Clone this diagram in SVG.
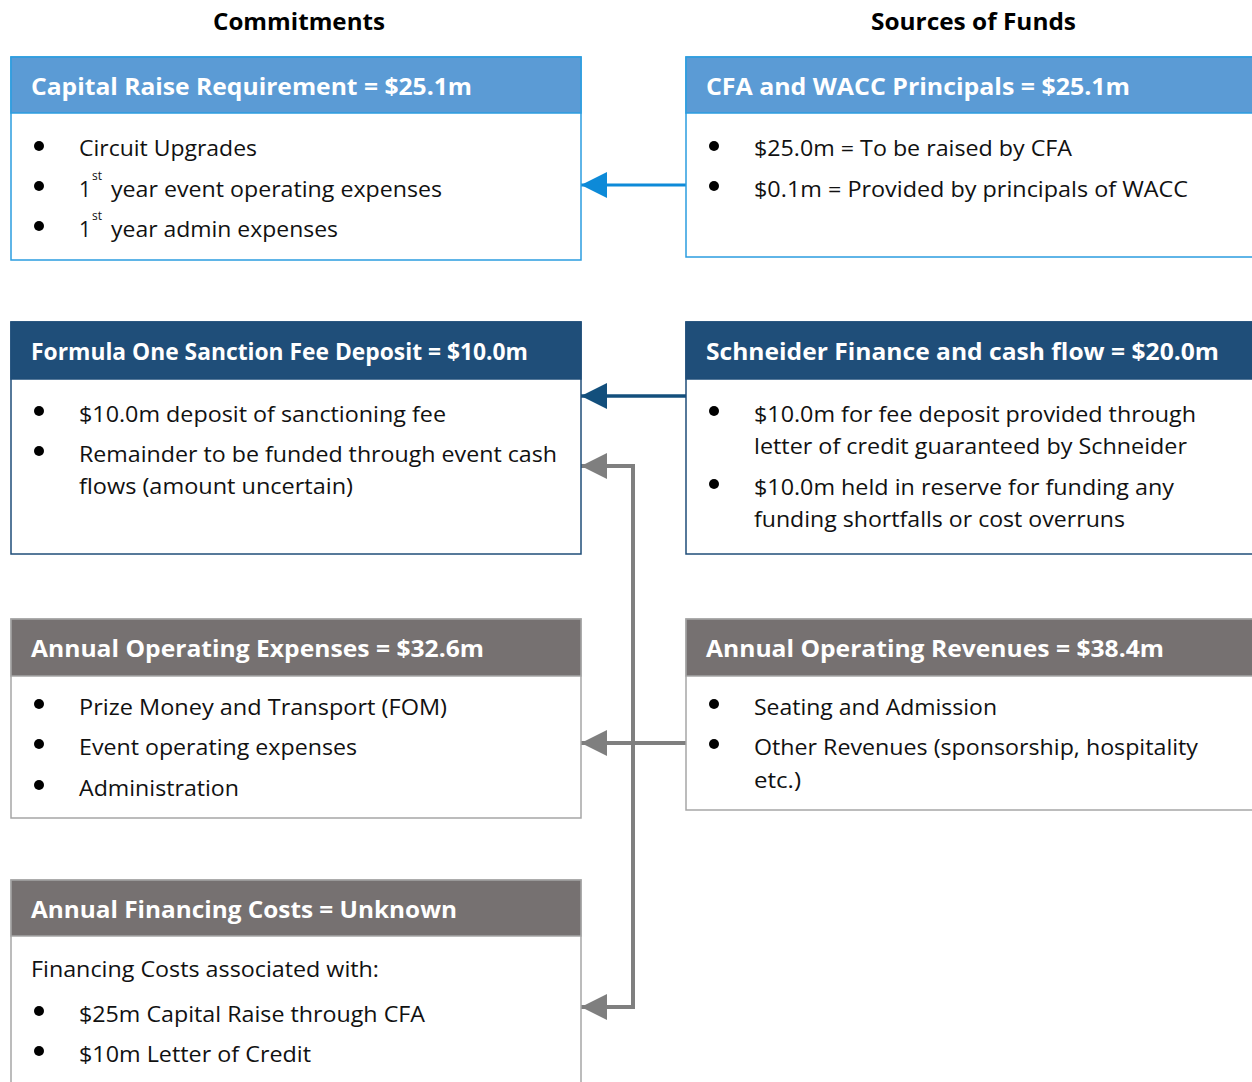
<svg xmlns="http://www.w3.org/2000/svg" width="1252" height="1082" viewBox="0 0 1252 1082">
  <style>
    .title { font-family: "Open Sans", "Noto Sans", sans-serif; font-weight: bold; font-size: 23px; fill: #000; }
    .head { font-family: "Open Sans", "Noto Sans", sans-serif; font-weight: bold; font-size: 23px; fill: #fff; }
    .body { font-family: "Open Sans", "Noto Sans", sans-serif; font-size: 21px; fill: #111; }
    .sup { font-family: "Open Sans", "Noto Sans", sans-serif; font-size: 12px; fill: #111; }
    .dot { fill: #000; }
    .boxLight { fill: #fff; stroke: #2b9de0; stroke-width: 1.5; }
    .hdrLight { fill: #5b9bd5; stroke: #2b9de0; stroke-width: 1.5; }
    .boxDark { fill: #fff; stroke: #1f4e79; stroke-width: 1.5; }
    .hdrDark { fill: #1f4e79; stroke: #1f4e79; stroke-width: 1.5; }
    .boxGrey { fill: #fff; stroke: #a6a6a6; stroke-width: 1.5; }
    .hdrGrey { fill: #767171; stroke: #a6a6a6; stroke-width: 1.5; }
    .conn { fill: none; stroke-linejoin: miter; }
  </style>
  <defs>
    <marker id="arrowBlue" markerUnits="userSpaceOnUse" markerWidth="26" markerHeight="26" refX="26" refY="13" orient="auto">
      <path d="M0,0 L26,13 L0,26 z" fill="#0d8ad8"/>
    </marker>
    <marker id="arrowNavy" markerUnits="userSpaceOnUse" markerWidth="26" markerHeight="26" refX="26" refY="13" orient="auto">
      <path d="M0,0 L26,13 L0,26 z" fill="#134f7c"/>
    </marker>
    <marker id="arrowGrey" markerUnits="userSpaceOnUse" markerWidth="26" markerHeight="26" refX="26" refY="13" orient="auto">
      <path d="M0,0 L26,13 L0,26 z" fill="#7f7f7f"/>
    </marker>
  </defs>

  <rect width="1252" height="1082" fill="#fff"/>

  <!-- column titles -->
  <text class="title" x="213" y="30" textLength="172" lengthAdjust="spacingAndGlyphs">Commitments</text>
  <text class="title" x="871" y="30" textLength="205" lengthAdjust="spacingAndGlyphs">Sources of Funds</text>

  <!-- connectors -->
  <g id="connectors">
    <path class="conn" d="M686,185 H581" stroke="#0d8ad8" stroke-width="3" marker-end="url(#arrowBlue)"/>
    <path class="conn" d="M686,396 H581" stroke="#134f7c" stroke-width="3.5" marker-end="url(#arrowNavy)"/>
    <path class="conn" d="M686,743 H581" stroke="#7f7f7f" stroke-width="4" marker-end="url(#arrowGrey)"/>
    <path class="conn" d="M633,743 V466 H581" stroke="#7f7f7f" stroke-width="4" marker-end="url(#arrowGrey)"/>
    <path class="conn" d="M633,743 V1007 H581" stroke="#7f7f7f" stroke-width="4" marker-end="url(#arrowGrey)"/>
  </g>

  <!-- Capital Raise Requirement -->
  <g id="capital-raise">
    <rect class="boxLight" x="11" y="57" width="570" height="203"/>
    <rect class="hdrLight" x="11" y="57" width="570" height="56"/>
    <text class="head" x="31" y="95" textLength="441" lengthAdjust="spacingAndGlyphs">Capital Raise Requirement = $25.1m</text>
    <circle class="dot" cx="39" cy="146" r="5"/>
    <text class="body" x="79" y="156" textLength="178" lengthAdjust="spacingAndGlyphs">Circuit Upgrades</text>
    <circle class="dot" cx="39" cy="186" r="5"/>
    <text class="body" x="79" y="197">1</text>
    <text class="sup" x="92" y="180">st</text>
    <text class="body" x="111" y="197" textLength="331" lengthAdjust="spacingAndGlyphs">year event operating expenses</text>
    <circle class="dot" cx="39" cy="226" r="5"/>
    <text class="body" x="79" y="237">1</text>
    <text class="sup" x="92" y="220">st</text>
    <text class="body" x="111" y="237" textLength="227" lengthAdjust="spacingAndGlyphs">year admin expenses</text>
  </g>

  <!-- CFA and WACC Principals -->
  <g id="cfa-wacc">
    <rect class="boxLight" x="686" y="57" width="580" height="200"/>
    <rect class="hdrLight" x="686" y="57" width="580" height="56"/>
    <text class="head" x="706" y="95" textLength="424" lengthAdjust="spacingAndGlyphs">CFA and WACC Principals = $25.1m</text>
    <circle class="dot" cx="714" cy="146" r="5"/>
    <text class="body" x="754" y="156" textLength="318" lengthAdjust="spacingAndGlyphs">$25.0m = To be raised by CFA</text>
    <circle class="dot" cx="714" cy="186" r="5"/>
    <text class="body" x="754" y="197" textLength="434" lengthAdjust="spacingAndGlyphs">$0.1m = Provided by principals of WACC</text>
  </g>

  <!-- Formula One Sanction Fee Deposit -->
  <g id="sanction-fee">
    <rect class="boxDark" x="11" y="322" width="570" height="232"/>
    <rect class="hdrDark" x="11" y="322" width="570" height="57"/>
    <text class="head" x="31" y="360" textLength="497" lengthAdjust="spacingAndGlyphs">Formula One Sanction Fee Deposit = $10.0m</text>
    <circle class="dot" cx="39" cy="411" r="5"/>
    <text class="body" x="79" y="422" textLength="367" lengthAdjust="spacingAndGlyphs">$10.0m deposit of sanctioning fee</text>
    <circle class="dot" cx="39" cy="451" r="5"/>
    <text class="body" x="79" y="462" textLength="478" lengthAdjust="spacingAndGlyphs">Remainder to be funded through event cash</text>
    <text class="body" x="79" y="494" textLength="274" lengthAdjust="spacingAndGlyphs">flows (amount uncertain)</text>
  </g>

  <!-- Schneider Finance and cash flow -->
  <g id="schneider">
    <rect class="boxDark" x="686" y="322" width="580" height="232"/>
    <rect class="hdrDark" x="686" y="322" width="580" height="57"/>
    <text class="head" x="706" y="360" textLength="513" lengthAdjust="spacingAndGlyphs">Schneider Finance and cash flow = $20.0m</text>
    <circle class="dot" cx="714" cy="411" r="5"/>
    <text class="body" x="754" y="422" textLength="442" lengthAdjust="spacingAndGlyphs">$10.0m for fee deposit provided through</text>
    <text class="body" x="754" y="454" textLength="433" lengthAdjust="spacingAndGlyphs">letter of credit guaranteed by Schneider</text>
    <circle class="dot" cx="714" cy="484" r="5"/>
    <text class="body" x="754" y="495" textLength="420" lengthAdjust="spacingAndGlyphs">$10.0m held in reserve for funding any</text>
    <text class="body" x="754" y="527" textLength="371" lengthAdjust="spacingAndGlyphs">funding shortfalls or cost overruns</text>
  </g>

  <!-- Annual Operating Expenses -->
  <g id="operating-expenses">
    <rect class="boxGrey" x="11" y="619" width="570" height="199"/>
    <rect class="hdrGrey" x="11" y="619" width="570" height="57"/>
    <text class="head" x="31" y="657" textLength="453" lengthAdjust="spacingAndGlyphs">Annual Operating Expenses = $32.6m</text>
    <circle class="dot" cx="39" cy="704" r="5"/>
    <text class="body" x="79" y="715" textLength="368" lengthAdjust="spacingAndGlyphs">Prize Money and Transport (FOM)</text>
    <circle class="dot" cx="39" cy="744" r="5"/>
    <text class="body" x="79" y="755" textLength="278" lengthAdjust="spacingAndGlyphs">Event operating expenses</text>
    <circle class="dot" cx="39" cy="785" r="5"/>
    <text class="body" x="79" y="796" textLength="160" lengthAdjust="spacingAndGlyphs">Administration</text>
  </g>

  <!-- Annual Operating Revenues -->
  <g id="operating-revenues">
    <rect class="boxGrey" x="686" y="619" width="580" height="191"/>
    <rect class="hdrGrey" x="686" y="619" width="580" height="57"/>
    <text class="head" x="706" y="657" textLength="458" lengthAdjust="spacingAndGlyphs">Annual Operating Revenues = $38.4m</text>
    <circle class="dot" cx="714" cy="704" r="5"/>
    <text class="body" x="754" y="715" textLength="243" lengthAdjust="spacingAndGlyphs">Seating and Admission</text>
    <circle class="dot" cx="714" cy="744" r="5"/>
    <text class="body" x="754" y="755" textLength="444" lengthAdjust="spacingAndGlyphs">Other Revenues (sponsorship, hospitality</text>
    <text class="body" x="754" y="788" textLength="47" lengthAdjust="spacingAndGlyphs">etc.)</text>
  </g>

  <!-- Annual Financing Costs -->
  <g id="financing-costs">
    <rect class="boxGrey" x="11" y="880" width="570" height="220"/>
    <rect class="hdrGrey" x="11" y="880" width="570" height="56"/>
    <text class="head" x="31" y="918" textLength="426" lengthAdjust="spacingAndGlyphs">Annual Financing Costs = Unknown</text>
    <text class="body" x="31" y="977" textLength="348" lengthAdjust="spacingAndGlyphs">Financing Costs associated with:</text>
    <circle class="dot" cx="39" cy="1011" r="5"/>
    <text class="body" x="79" y="1022" textLength="346" lengthAdjust="spacingAndGlyphs">$25m Capital Raise through CFA</text>
    <circle class="dot" cx="39" cy="1051" r="5"/>
    <text class="body" x="79" y="1062" textLength="232" lengthAdjust="spacingAndGlyphs">$10m Letter of Credit</text>
  </g>
</svg>
